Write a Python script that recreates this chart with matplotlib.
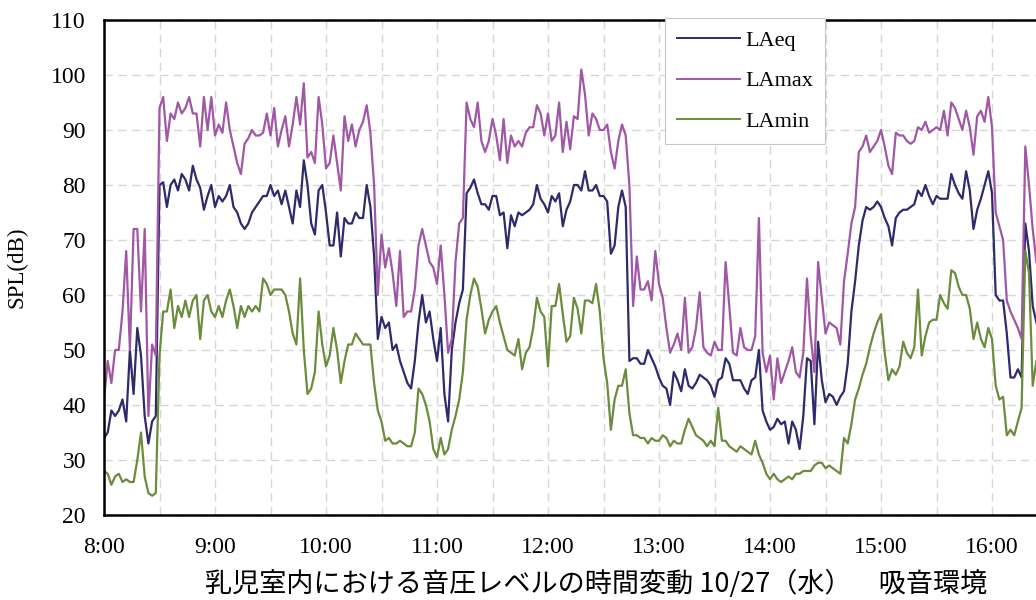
import matplotlib
matplotlib.use("Agg")
import matplotlib.pyplot as plt
import matplotlib.dates as mdates
from matplotlib.ticker import FuncFormatter, MultipleLocator
import pandas as pd

plt.rcParams['font.family'] = ['Liberation Serif', 'DejaVu Serif']

# 2-minute readings from 8:00
laeq = [
    34, 35, 39, 38, 39, 41, 37, 50, 42, 54,
    49, 38, 33, 37, 38, 80, 80.5, 76, 80, 81,
    79, 82, 81, 79, 83.5, 81, 79.5, 75.5, 78, 80,
    76, 78, 77, 78, 80, 76, 75, 73, 72, 73,
    75, 76, 77, 78, 78, 80, 78, 79, 76.5, 79,
    76, 73, 79, 76, 84.5, 80, 73, 71, 79, 80,
    75, 69, 69, 75, 67, 74, 73, 73, 75, 74,
    74, 80, 76, 67, 52, 56, 54, 55, 50, 51,
    48, 46, 44, 43, 48, 55, 60, 55, 57, 52,
    48, 54, 42, 37, 50, 55, 58.5, 61, 78.5, 79.5,
    81, 78.5, 76.5, 76.5, 75.5, 78, 78, 74.5, 75, 68.5,
    74.5, 72.5, 75, 74.5, 75, 75.5, 76.5, 80, 77.5, 76.5,
    75, 78, 77, 78.5, 72.5, 75.5, 77, 80, 80, 79,
    82.5, 79, 79, 80, 78, 78, 77, 67.5, 69, 76,
    79, 76, 48, 48.5, 48.5, 47.5, 47.5, 50, 48.5, 47,
    45, 43.5, 43, 40, 46, 44.5, 42.5, 46.5, 43.5, 43,
    44, 45.5, 45, 44.5, 43.5, 41.5, 44.5, 45, 48.5, 47.5,
    44.5, 44.5, 44.5, 43, 42, 44.5, 45, 50, 39, 37,
    35.5, 36, 37.5, 36.5, 37, 33, 37, 35.5, 32, 38,
    48.5, 48, 36.5, 51.5, 44.5, 40.5, 42, 41.5, 40, 41.5,
    42.5, 47.5, 57, 62.5, 69, 73.5, 76, 75.5, 76, 77,
    76, 74, 72.5, 69, 74, 75, 75.5, 75.5, 76, 76.5,
    79, 78, 80, 78, 76.5, 78, 77.5, 77.5, 77.5, 82,
    80, 78.5, 77.5, 82.5, 79, 72, 75.5, 77.5, 80, 82.5,
    78.5, 60, 59, 59, 53, 45, 45, 46.5, 45, 73,
    68, 58, 55,
]

lamax = [
    41, 48, 44, 50, 50, 57, 68, 50, 72, 72,
    57, 72, 38, 51, 49, 94, 96, 88, 93, 92,
    95, 93, 94, 96, 93, 93, 87, 96, 90, 96,
    89, 91, 89.5, 95, 90, 87, 84, 82, 87.5, 88.5,
    90, 89, 89, 89.5, 93, 89, 94, 87, 90, 92.5,
    87, 91, 96, 91, 98.5, 85, 86, 84, 96, 91,
    83, 84, 89, 84, 79, 92.5, 88, 91, 87, 90,
    91.5, 94.5, 89.5, 80, 60, 71, 65, 68.5, 64, 58,
    68, 56, 57, 57, 61, 69, 72, 69, 66, 65,
    62, 69, 60, 49.5, 52, 66, 73, 74, 95, 92,
    90.5, 95, 88, 86, 88, 92, 89, 84.5, 92, 84,
    89, 87, 88, 87, 89.5, 90.5, 90.5, 94.5, 93, 89,
    93, 88, 89, 95, 86, 91.5, 86.5, 92.5, 92, 101,
    96.5, 89, 93, 92, 90, 90, 91, 86, 83, 88,
    91, 89, 80, 58, 67, 61, 61, 62.5, 59, 68,
    62, 59.5, 54, 49.5, 51, 53, 50, 59.5, 49.5, 50.5,
    54, 60.5, 50.5, 49.5, 49, 51.5, 50, 50, 66, 58,
    49.5, 49, 54, 50.5, 50, 50, 52.5, 74, 49.5, 46,
    49, 41, 48.5, 44, 46, 48, 50.5, 46, 45, 49.5,
    63, 52.5, 46, 66, 59.5, 53, 55, 54.5, 54, 51,
    62.5, 67.5, 73, 76, 86, 87, 89, 86, 87, 88,
    90, 87, 83.5, 82, 89.5, 89, 89, 88, 87.5, 88,
    90.5, 90, 91.5, 89.5, 90, 90.5, 90, 93.5, 89, 95,
    94, 92, 90, 93.5, 90.5, 85.5, 92.5, 93.5, 91.5, 96,
    90.5, 75, 72.5, 70, 59, 57, 55.5, 54, 52, 87,
    80, 72, 66,
]

lamin = [
    28, 27.5, 25.5, 27, 27.5, 26, 26.5, 26, 26, 30,
    35, 27, 24, 23.5, 24, 49, 57, 57, 61, 54,
    58, 56, 59, 56, 59, 60, 52, 59, 60, 57,
    56, 58, 56, 59, 61, 58, 54, 58, 56, 58,
    57, 58, 57, 63, 62, 60, 61, 61, 61, 60,
    57, 53, 51, 63, 50, 42, 43, 46, 57, 51,
    47, 49, 54, 50, 44, 48, 51, 51, 53, 52,
    51, 51, 51, 44, 39, 37, 33.5, 34, 33, 33,
    33.5, 33, 32.5, 32.5, 35, 43, 42, 40, 37, 32,
    30.5, 34, 31, 32, 35.5, 38, 41, 46, 55.5, 60,
    63, 61.5, 57.5, 53, 55.5, 57, 58, 55, 52.5, 50,
    49.5, 49, 52, 46.5, 49.5, 50.5, 54, 59.5, 57, 56,
    47, 58, 58, 62, 56.5, 51.5, 52.5, 59.5, 57.5, 53,
    59, 59, 58.5, 62, 57, 48.5, 44, 35.5, 41, 43.5,
    43.5, 46.5, 38.5, 34.5, 34.5, 34, 34, 33, 34, 33.5,
    33.5, 34.5, 34, 32.5, 33.5, 33, 33, 35.5, 37.5, 36,
    34.5, 34, 33.5, 32.5, 33.5, 32.5, 39.5, 33.5, 33.5, 32.5,
    32, 31.5, 32.5, 32, 31.5, 31, 33.5, 31, 29.5, 27.5,
    26.5, 27.5, 26.5, 26, 26.5, 27, 26.5, 27.5, 27.5, 28,
    28, 28, 29, 29.5, 29.5, 28.5, 29, 28.5, 28, 27.5,
    34, 33, 36.5, 41, 43, 45.5, 47.5, 50.5, 53, 55,
    56.5, 49.5, 44.5, 46.5, 45.5, 47, 51.5, 49.5, 48.5, 50.5,
    61, 49, 52.5, 55, 55.5, 55.5, 60, 58.5, 57.5, 64.5,
    64, 61.5, 60, 60, 57.5, 52, 55, 52, 50.5, 54,
    52, 43.5, 41, 41.5, 34.5, 35.5, 34.5, 37, 39.5, 68,
    64, 43.5, 48,
]

times = pd.date_range("2021-10-27 08:00", periods=len(laeq), freq="2min")

fig = plt.figure(figsize=(10.36, 6), dpi=100)
# axes run past the right edge, the original picture is cropped there
ax = fig.add_axes([104 / 1036, 85 / 600, 980.5 / 1036, 495 / 600])

ax.plot(times, laeq, color="#2e2a6c", lw=1.6, label="LAeq")
ax.plot(times, lamax, color="#a057a6", lw=1.6, label="LAmax")
ax.plot(times, lamin, color="#6b8c3c", lw=1.6, label="LAmin")

ax.set_xlim(pd.Timestamp("2021-10-27 08:00"), pd.Timestamp("2021-10-27 16:50"))
ax.set_ylim(20, 110)
ax.yaxis.set_major_locator(MultipleLocator(10))
ax.xaxis.set_major_locator(mdates.HourLocator())
ax.xaxis.set_minor_locator(mdates.MinuteLocator(byminute=[30]))

def hm(x, pos):
    d = mdates.num2date(x)
    return f"{d.hour}:{d.minute:02d}"

ax.xaxis.set_major_formatter(FuncFormatter(hm))

ax.grid(True, which="major", axis="both", color="#d6d6d6", ls=(0, (6, 4)), lw=1.0)
ax.grid(True, which="minor", axis="x", color="#d6d6d6", ls=(0, (6, 4)), lw=1.0)
ax.set_axisbelow(True)

ax.tick_params(axis="both", which="both", length=0, labelsize=17)
ax.tick_params(axis="x", pad=16)
ax.tick_params(axis="y", pad=13)
for s in ax.spines.values():
    s.set_color("black")
    s.set_linewidth(1.8)

ax.set_ylabel("SPL(dB)", fontsize=16.5)
ax.yaxis.set_label_coords(-0.078, 0.5)

leg = ax.legend(loc="upper left", bbox_to_anchor=(0.5724, 1.004), fancybox=False,
                edgecolor="#c8c8c8", framealpha=1, fontsize=16, handlelength=2.8,
                handletextpad=0.25, labelspacing=0.9, borderpad=0.55, borderaxespad=0)
leg.get_frame().set_linewidth(0.8)
for line in leg.get_lines():
    line.set_linewidth(1.4)

fig.text(596 / 1036, 1 - 584 / 600, "乳児室内における音圧レベルの時間変動 10/27（水）　吸音環境",
         ha="center", va="center", fontsize=19.5, family=["Noto Sans CJK JP", "DejaVu Sans"])

fig.savefig("out.png", dpi=100)
